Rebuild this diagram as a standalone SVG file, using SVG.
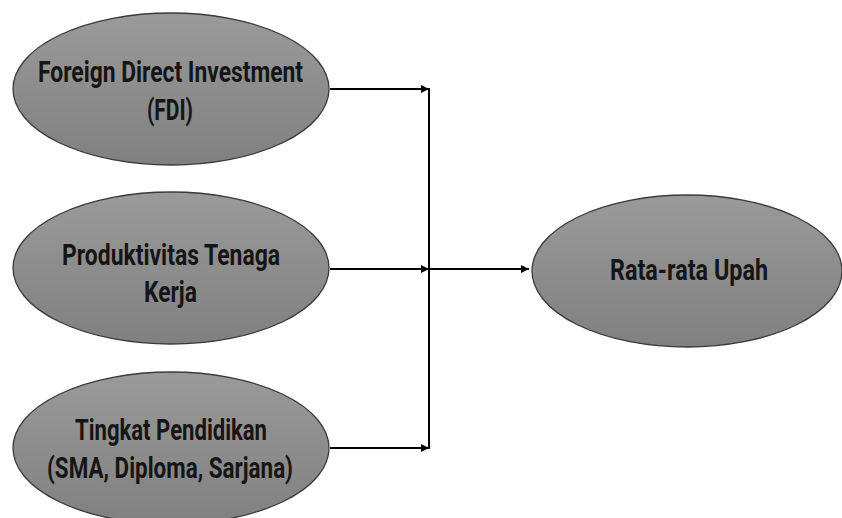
<svg xmlns="http://www.w3.org/2000/svg" width="842" height="518" viewBox="0 0 842 518">
<defs>
<linearGradient id="g" x1="0" y1="0" x2="0" y2="1">
<stop offset="0" stop-color="#9a9a9a"/>
<stop offset="1" stop-color="#808080"/>
</linearGradient>
<marker id="ah" viewBox="0 0 10 10" refX="10" refY="5" markerWidth="10" markerHeight="8" markerUnits="userSpaceOnUse" orient="auto">
<path d="M0,0 L10,5 L0,10 z" fill="#000"/>
</marker>
<style>
.n{fill:url(#g);stroke:#3a3a3a;stroke-width:1.3}
.t{font-family:Roboto,"Liberation Sans",sans-serif;font-weight:bold;font-size:29px;fill:#151515;text-anchor:start}
.c{fill:none;stroke:#000;stroke-width:2}
</style>
</defs>
<rect width="842" height="518" fill="#fff"/>
<g id="connectors">
<line class="c" x1="330" y1="89" x2="429" y2="89" marker-end="url(#ah)"/>
<line class="c" x1="330" y1="269" x2="429" y2="269" marker-end="url(#ah)"/>
<line class="c" x1="330" y1="448" x2="429" y2="448" marker-end="url(#ah)"/>
<line class="c" x1="429" y1="88" x2="429" y2="449"/>
<line class="c" x1="429" y1="269" x2="529" y2="269" marker-end="url(#ah)"/>
</g>
<g id="fdi">
<ellipse class="n" cx="171" cy="89" rx="158" ry="76"/>
<text class="t" x="38" y="82" textLength="265" lengthAdjust="spacingAndGlyphs">Foreign Direct Investment</text>
<text class="t" x="147" y="120" textLength="46" lengthAdjust="spacingAndGlyphs">(FDI)</text>
</g>
<g id="produktivitas">
<ellipse class="n" cx="171" cy="268" rx="158" ry="76"/>
<text class="t" x="62" y="265" textLength="218" lengthAdjust="spacingAndGlyphs">Produktivitas Tenaga</text>
<text class="t" x="144" y="302" textLength="53" lengthAdjust="spacingAndGlyphs">Kerja</text>
</g>
<g id="pendidikan">
<ellipse class="n" cx="171" cy="448" rx="158" ry="76"/>
<text class="t" x="75" y="440" textLength="192" lengthAdjust="spacingAndGlyphs">Tingkat Pendidikan</text>
<text class="t" x="47" y="478" textLength="246" lengthAdjust="spacingAndGlyphs">(SMA, Diploma, Sarjana)</text>
</g>
<g id="upah">
<ellipse class="n" cx="687" cy="271" rx="155" ry="76"/>
<text class="t" x="610" y="280" textLength="158" lengthAdjust="spacingAndGlyphs">Rata-rata Upah</text>
</g>
</svg>
